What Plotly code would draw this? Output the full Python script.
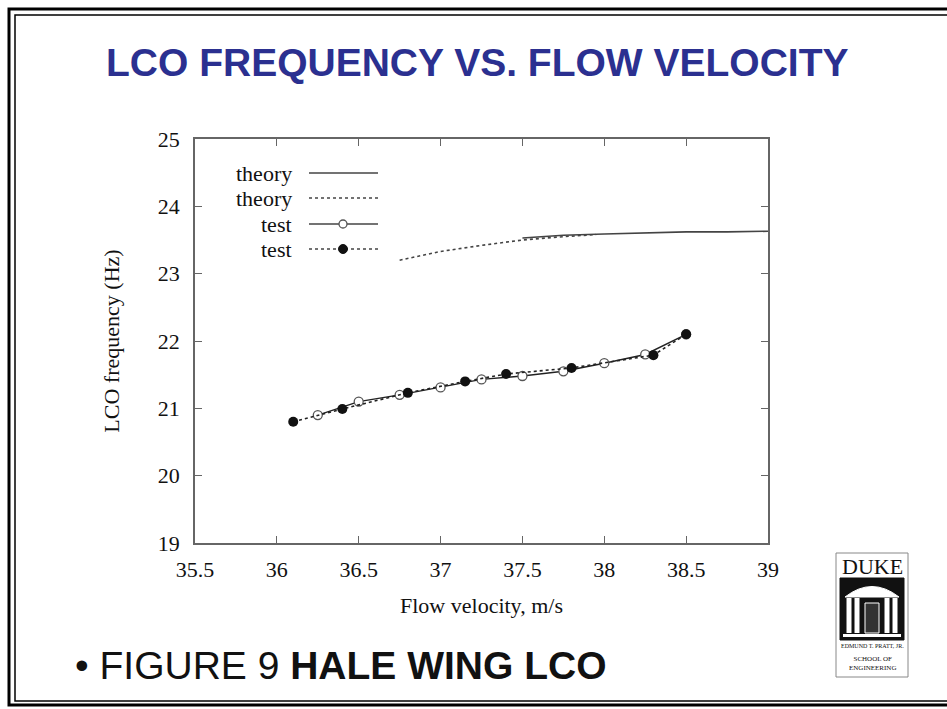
import plotly.graph_objects as go

# Test data: LCO frequency measured in the wind tunnel
test_open_v = [36.25, 36.5, 36.75, 37.0, 37.25, 37.5, 37.75, 38.0, 38.25, 38.5]
test_open_f = [20.90, 21.10, 21.20, 21.31, 21.43, 21.48, 21.55, 21.67, 21.80, 22.10]
test_fill_v = [36.1, 36.4, 36.8, 37.15, 37.4, 37.8, 38.3, 38.5]
test_fill_f = [20.80, 20.99, 21.23, 21.40, 21.51, 21.60, 21.79, 22.10]

# Theory curves
theory_solid_v = [37.5, 37.75, 38.0, 38.25, 38.5, 38.75, 39.0]
theory_solid_f = [23.53, 23.57, 23.59, 23.61, 23.62, 23.62, 23.63]
theory_dash_v = [36.75, 37.0, 37.25, 37.5, 37.75, 37.95]
theory_dash_f = [23.20, 23.33, 23.42, 23.50, 23.55, 23.58]

x_ticks = [35.5, 36, 36.5, 37, 37.5, 38, 38.5, 39]
y_ticks = [19, 20, 21, 22, 23, 24, 25]
legend_labels = ["theory", "theory", "test", "test"]

W, H = 947, 709
L, R, T, B = 195, 768, 139, 543


def px(x):
    return (x - L) / (R - L)


def py(y):
    return (B - y) / (B - T)


def note(x, y, text, font, xa="center", ya="middle"):
    return dict(x=px(x), y=py(y), xref="paper", yref="paper", text=text,
                showarrow=False, xanchor=xa, yanchor=ya, font=font)


fig = go.Figure()
line_col = "#222222"
fig.add_trace(go.Scatter(x=theory_solid_v, y=theory_solid_f, mode="lines",
                         line=dict(color="#444444", width=1.6), showlegend=False))
fig.add_trace(go.Scatter(x=theory_dash_v, y=theory_dash_f, mode="lines",
                         line=dict(color="#444444", width=1.6, dash="dot"), showlegend=False))
fig.add_trace(go.Scatter(x=test_open_v, y=test_open_f, mode="lines+markers",
                         line=dict(color=line_col, width=1.4),
                         marker=dict(symbol="circle", size=9, color="white",
                                     line=dict(color="#555555", width=1.3)),
                         showlegend=False))
fig.add_trace(go.Scatter(x=test_fill_v, y=test_fill_f, mode="lines+markers",
                         line=dict(color=line_col, width=1.6, dash="dot"),
                         marker=dict(symbol="circle", size=10, color="#111111"),
                         showlegend=False))

shapes = []
annotations = []

# Legend drawn inside the plot: label on the left, sample on the right
leg_font = dict(family="Liberation Serif", size=22, color="#111")
leg_rows = [173, 198, 224, 249]
leg_styles = [("solid", None), ("dot", None), ("solid", "open"), ("dot", "fill")]
for lab, yy, (dash, mk) in zip(legend_labels, leg_rows, leg_styles):
    annotations.append(note(294, yy, lab, leg_font, xa="right"))
    shapes.append(dict(type="line", xref="paper", yref="paper",
                       x0=px(309), x1=px(378), y0=py(yy), y1=py(yy),
                       line=dict(color="#444", width=1.5, dash=dash)))
    if mk == "open":
        shapes.append(dict(type="circle", xref="paper", yref="paper",
                           x0=px(339), x1=px(347), y0=py(yy + 4), y1=py(yy - 4),
                           fillcolor="white", line=dict(color="#555", width=1.3)))
    elif mk == "fill":
        shapes.append(dict(type="circle", xref="paper", yref="paper",
                           x0=px(338.5), x1=px(347.5), y0=py(yy + 4.5), y1=py(yy - 4.5),
                           fillcolor="#111", line=dict(color="#111", width=1)))

# Slide frame: double border
shapes.append(dict(type="rect", xref="paper", yref="paper",
                   x0=px(9), x1=px(W + 6), y0=py(H - 4), y1=py(9),
                   line=dict(color="black", width=3), fillcolor="rgba(0,0,0,0)", layer="below"))
shapes.append(dict(type="rect", xref="paper", yref="paper",
                   x0=px(15), x1=px(W + 6), y0=py(H - 8), y1=py(15),
                   line=dict(color="black", width=1.5), fillcolor="rgba(0,0,0,0)", layer="below"))

# School logo built from simple shapes
lx0, lx1, ly0, ly1 = 836, 908, 553, 677
shapes.append(dict(type="rect", xref="paper", yref="paper",
                   x0=px(lx0), x1=px(lx1), y0=py(ly1), y1=py(ly0),
                   line=dict(color="#888", width=1), fillcolor="white"))
shapes.append(dict(type="rect", xref="paper", yref="paper",
                   x0=px(840), x1=px(904), y0=py(640), y1=py(578),
                   line=dict(color="#111", width=1), fillcolor="#111"))
shapes.append(dict(type="path", xref="paper", yref="paper",
                   path=f"M {px(845)},{py(597)} Q {px(872)},{py(576)} {px(899)},{py(597)} Z",
                   line=dict(color="white", width=1), fillcolor="white"))
for cx in [849, 857, 887, 895]:
    shapes.append(dict(type="rect", xref="paper", yref="paper",
                       x0=px(cx - 2.5), x1=px(cx + 2.5), y0=py(633), y1=py(598),
                       line=dict(color="white", width=0), fillcolor="white"))
shapes.append(dict(type="rect", xref="paper", yref="paper",
                   x0=px(865), x1=px(879), y0=py(633), y1=py(603),
                   line=dict(color="white", width=1), fillcolor="#333"))
shapes.append(dict(type="rect", xref="paper", yref="paper",
                   x0=px(843), x1=px(901), y0=py(637), y1=py(634),
                   line=dict(color="white", width=0), fillcolor="white"))
annotations.append(note(872, 566, "DUKE",
                        dict(family="Liberation Serif", size=22, color="#111")))
annotations.append(note(872, 646, "EDMUND T. PRATT, JR.",
                        dict(family="Liberation Serif", size=6, color="#111")))
annotations.append(note(872, 663, "SCHOOL OF<br>ENGINEERING",
                        dict(family="Liberation Serif", size=7, color="#111")))

# Title and caption
annotations.append(note(477, 62, "<b>LCO FREQUENCY VS. FLOW VELOCITY</b>",
                        dict(family="Liberation Sans", size=39, color="#2b3090")))
annotations.append(note(73, 665, "• FIGURE 9 <b>HALE WING LCO</b>",
                        dict(family="Liberation Sans", size=39, color="#111"), xa="left"))

axis_font = dict(family="Liberation Serif", size=22, color="#111")
fig.update_layout(
    width=W, height=H,
    margin=dict(l=L, r=W - R, t=T, b=H - B),
    paper_bgcolor="white", plot_bgcolor="white",
    shapes=shapes, annotations=annotations,
    xaxis=dict(range=[35.5, 39], tickvals=x_ticks, ticktext=[f"{v:g}" for v in x_ticks],
               showgrid=False, zeroline=False, showline=True, linecolor="#666", linewidth=1.5,
               mirror="ticks", ticks="inside", ticklen=7, tickcolor="#666",
               tickfont=axis_font, ticklabelstandoff=6,
               title=dict(text="Flow velocity, m/s", font=axis_font, standoff=16)),
    yaxis=dict(range=[19, 25], tickvals=y_ticks, showgrid=False, zeroline=False,
               showline=True, linecolor="#666", linewidth=1.5, mirror="ticks",
               ticks="inside", ticklen=7, tickcolor="#666", tickfont=axis_font,
               ticklabelstandoff=9,
               title=dict(text="LCO frequency (Hz)", font=axis_font, standoff=32)),
)

fig.write_html("out.html")
